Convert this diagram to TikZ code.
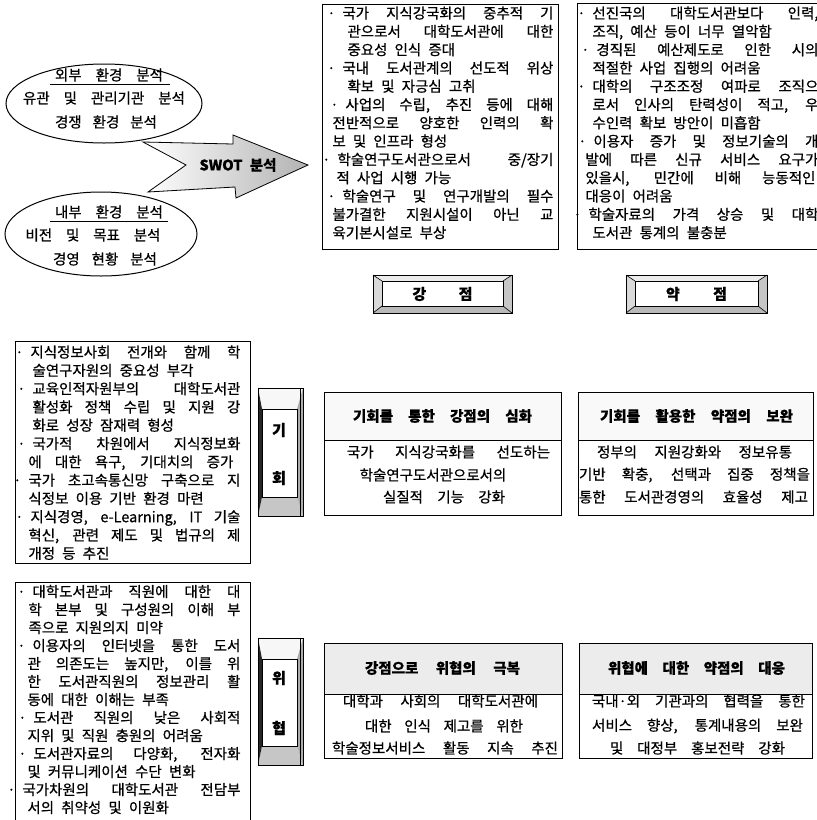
\documentclass[tikz,border=0pt]{standalone}
\usepackage{fontspec}
\setmainfont{Noto Sans CJK KR}[WordSpace=2.2, FakeBold=0.6]
\usetikzlibrary{shapes.geometric}
\newcommand\LJ[3]{\hbox{\hspace*{#1}\makebox[\dimexpr #2-#1\relax][s]{#3}}}
\newcommand\LN[2]{\hbox{\hspace*{#1}#2}}
\newcommand\BU{\llap{·\hspace{7pt}}}
\newcommand\SP[2]{\makebox[#1][s]{#2}}
\newcommand\bevelbox[6]{%
  \fill[gray!30] (#1,#2) -- ({#1+9},{#2+6}) -- ({#1+9},{#4-7}) -- (#1,#4) -- cycle;
  \fill[gray!15] (#1,#2) -- (#3,#2) -- ({#3-9},{#2+6}) -- ({#1+9},{#2+6}) -- cycle;
  \fill[gray!45] (#3,#2) -- (#3,#4) -- ({#3-9},{#4-7}) -- ({#3-9},{#2+6}) -- cycle;
  \fill[gray!55] (#1,#4) -- (#3,#4) -- ({#3-9},{#4-7}) -- ({#1+9},{#4-7}) -- cycle;
  \draw[line width=0.6pt] (#1,#2) -- ({#1+9},{#2+6}) (#3,#2) -- ({#3-9},{#2+6})
        (#1,#4) -- ({#1+9},{#4-7}) (#3,#4) -- ({#3-9},{#4-7});
  \draw[line width=1pt, fill=white] ({#1+9},{#2+6}) rectangle ({#3-9},{#4-7});
  \draw[line width=1pt] (#1,#2) rectangle (#3,#4);
  \node[labeltext] (#5) at ({(#1+#3)/2},{(#2+#4)/2}) {#6};
}
\newcommand\vlab[7]{%
  \fill[gray!6] (258,#1) -- (303,#1) -- (297,{#1+21}) -- (262,{#1+21}) -- cycle;
  \fill[gray!45] (262,{#2-19}) -- (297,{#2-19}) -- (303,#2) -- (258,#2) -- cycle;
  \fill[black!85] (258,#1) -- (262,{#1+21}) -- (262,{#2-19}) -- (258,#2) -- cycle;
  \fill[gray!65] (303,#1) -- (297,{#1+21}) -- (297,{#2-19}) -- (303,#2) -- cycle;
  \draw[line width=0.8pt, fill=white] (262,{#1+21}) rectangle (297,{#2-19});
  \draw[line width=1pt] (258,#1) rectangle (303,#2);
  \draw[line width=0.6pt] (300,#1) -- (300,#2);
  \node[labeltext] (#3a) at (279,#6) {#4};
  \node[labeltext] (#3b) at (279,#7) {#5};
}
\newcommand\cbox[6]{%
  \fill[#6] (#1,#2) rectangle (#3,#5);
  \draw[line width=1pt] (#1,#2) rectangle (#3,#4);
  \draw[line width=1pt] (#1,#5) -- (#3,#5);
}
\begin{document}
\begin{tikzpicture}[x=1pt, y=-1pt, line width=0.9pt,
  font=\fontsize{14.5}{18}\selectfont,
  labeltext/.style={font=\bfseries\fontsize{15}{17}\selectfont, inner sep=0pt},
  plain/.style={inner sep=0pt},
  head/.style={font=\bfseries\fontsize{14.5}{17}\selectfont, inner sep=0pt}]
\useasboundingbox (0,0) rectangle (817,820);
\fill[white] (0,0) rectangle (817,820);

% SWOT arrow
\draw[line width=0.8pt, left color=white, right color=gray!60]
  (143,142) -- (233,144) -- (233,135) -- (308,165) -- (236,198) -- (235,187)
  -- (148,192) -- (186,165) -- cycle;
\node[font=\bfseries\fontsize{14.5}{16}\selectfont, inner sep=0pt] (swot) at (238,165) {SWOT 분석};

% ellipses
\node[draw, ellipse, line width=1pt, fill=white, minimum width=196pt, minimum height=79pt, inner sep=0pt] (ext) at (104,103.5) {};
\node[draw, ellipse, line width=1pt, fill=white, minimum width=192pt, minimum height=84pt, inner sep=0pt] (int) at (101,234) {};
\node[plain] (ext1) at (109,75) {\SP{108pt}{외부 환경 분석}};
\draw[line width=0.8pt] ([xshift=-5pt,yshift=-2pt]ext1.south west) -- ([xshift=7pt,yshift=-2pt]ext1.south east);
\node[plain] (ext2) at (104,98) {\SP{162pt}{유관 및 관리기관 분석}};
\node[plain] (ext3) at (106,122) {\SP{102pt}{경쟁 환경 분석}};
\node[plain] (int1) at (109,212) {\SP{108pt}{내부 환경 분석}};
\draw[line width=0.8pt] ([xshift=-5pt,yshift=-2pt]int1.south west) -- ([xshift=5pt,yshift=-2pt]int1.south east);
\node[plain] (int2) at (93,235) {\SP{135pt}{비전 및 목표 분석}};
\node[plain] (int3) at (105,259) {\SP{104pt}{경영 현황 분석}};

% strengths
\draw[line width=1pt] (322,4) rectangle (558,249);
\node[plain, anchor=base west] (S) at (332,18.5) {\vtop{\baselineskip=18.3pt
  \LJ{10pt}{221pt}{\BU 국가 지식강국화의 중추적 기}
  \LJ{15pt}{221pt}{관으로서 대학도서관에 대한}
  \LN{15pt}{중요성 인식 증대}
  \LJ{10pt}{221pt}{\BU 국내 도서관계의 선도적 위상}
  \LN{15pt}{확보 및 자긍심 고취}
  \LJ{13pt}{221pt}{\BU 사업의 수립, 추진 등에 대해}
  \LJ{0pt}{221pt}{전반적으로 양호한 인력의 확}
  \LN{0pt}{보 및 인프라 형성}
  \LJ{5pt}{221pt}{\BU 학술연구도서관으로서 중/장기}
  \LN{4pt}{적 사업 시행 가능}
  \LJ{10pt}{221pt}{\BU 학술연구 및 연구개발의 필수}
  \LJ{0pt}{221pt}{불가결한 지원시설이 아닌 교}
  \LN{0pt}{육기본시설로 부상}}};

% weaknesses
\draw[line width=1pt] (577,3) rectangle (830,249);
\node[plain, anchor=base west] (W) at (585,18.5) {\vtop{\baselineskip=18.3pt
  \LJ{7pt}{233pt}{\BU 선진국의 대학도서관보다 인력,}
  \LN{7pt}{조직, 예산 등이 너무 열악함}
  \LJ{11pt}{233pt}{\BU 경직된 예산제도로 인한 시의}
  \LN{7pt}{적절한 사업 집행의 어려움}
  \LJ{7pt}{233pt}{\BU 대학의 구조조정 여파로 조직으}
  \LJ{7pt}{233pt}{로서 인사의 탄력성이 적고, 우}
  \LN{7pt}{수인력 확보 방안이 미흡함}
  \LJ{8pt}{233pt}{\BU 이용자 증가 및 정보기술의 개}
  \LJ{0pt}{233pt}{발에 따른 신규 서비스 요구가}
  \LJ{0pt}{230pt}{있을시, 민간에 비해 능동적인}
  \LN{0pt}{대응이 어려움}
  \LJ{3pt}{233pt}{\BU 학술자료의 가격 상승 및 대학}
  \LN{7pt}{도서관 통계의 불충분}}};

% labels strengths / weaknesses
\bevelbox{373}{275}{512}{313}{lS}{\SP{60pt}{강 점}}
\bevelbox{626}{275}{767}{313}{lW}{\SP{61pt}{약 점}}

% opportunities
\draw[line width=1pt] (15,341) rectangle (250,563);
\node[plain, anchor=base west] (O) at (28,357.5) {\vtop{\baselineskip=18.3pt
  \LJ{2pt}{212pt}{\BU 지식정보사회 전개와 함께 학}
  \LN{4pt}{술연구자원의 중요성 부각}
  \LJ{4pt}{212pt}{\BU 교육인적자원부의 대학도서관}
  \LJ{4pt}{212pt}{활성화 정책 수립 및 지원 강}
  \LN{4pt}{화로 성장 잠재력 형성}
  \LJ{4pt}{212pt}{\BU 국가적 차원에서 지식정보화}
  \LJ{0pt}{205pt}{에 대한 욕구, 기대치의 증가}
  \LJ{0pt}{212pt}{\BU 국가 초고속통신망 구축으로 지}
  \LN{0pt}{식정보 이용 기반 환경 마련}
  \LJ{2pt}{212pt}{\BU 지식경영, e-Learning, IT 기술}
  \LJ{0pt}{212pt}{혁신, 관련 제도 및 법규의 제}
  \LN{0pt}{개정 등 추진}}};

% threats
\draw[line width=1pt] (15,582) rectangle (250,830);
\node[plain, anchor=base west] (T) at (22,597) {\vtop{\baselineskip=18pt
  \LJ{10pt}{218pt}{\BU 대학도서관과 직원에 대한 대}
  \LJ{6pt}{218pt}{학 본부 및 구성원의 이해 부}
  \LN{6pt}{족으로 지원의지 미약}
  \LJ{10pt}{218pt}{\BU 이용자의 인터넷을 통한 도서}
  \LJ{5pt}{218pt}{관 의존도는 높지만, 이를 위}
  \LJ{5pt}{218pt}{한 도서관직원의 정보관리 활}
  \LN{5pt}{동에 대한 이해는 부족}
  \LJ{11pt}{218pt}{\BU 도서관 직원의 낮은 사회적}
  \LN{5pt}{지위 및 직원 충원의 어려움}
  \LJ{11pt}{218pt}{\BU 도서관자료의 다양화, 전자화}
  \LN{5pt}{및 커뮤니케이션 수단 변화}
  \LJ{0pt}{218pt}{\BU 국가차원의 대학도서관 전담부}
  \LN{5pt}{서의 취약성 및 이원화}}};

% vertical labels
\vlab{388}{516}{op}{기}{회}{430}{478}
\vlab{638}{765}{th}{위}{협}{678}{728}

% strategy boxes
\cbox{324}{392}{561}{515}{440}{gray!5}
\cbox{578}{392}{813}{515}{440}{gray!5}
\cbox{324}{643}{562}{758}{694}{gray!15}
\cbox{579}{643}{812}{758}{694}{gray!15}

\node[head] (SOh) at (442.5,416) {\SP{179pt}{기회를 통한 강점의 심화}};
\node[plain] (SO1) at (448.5,452) {\SP{203pt}{국가 지식강국화를 선도하는}};
\node[plain] (SO2) at (433,475) {학술연구도서관으로서의};
\node[plain] (SO3) at (444,497) {\SP{122pt}{실질적 기능 강화}};

\node[head] (WOh) at (696.5,416) {\SP{193pt}{기회를 활용한 약점의 보완}};
\node[plain] (WO1) at (694.5,452) {\SP{195pt}{정부의 지원강화와 정보유통}};
\node[plain] (WO2) at (694.5,475) {\SP{231pt}{기반 확충, 선택과 집중 정책을}};
\node[plain] (WO3) at (693.5,497) {\SP{229pt}{통한 도서관경영의 효율성 제고}};

\node[head] (STh) at (442.5,668) {\SP{155pt}{강점으로 위협의 극복}};
\node[plain] (ST1) at (440.5,701) {\SP{195pt}{대학과 사회의 대학도서관에}};
\node[plain] (ST2) at (444,726) {\SP{158pt}{대한 인식 제고를 위한}};
\node[plain] (ST3) at (445,748) {\SP{226pt}{학술정보서비스 활동 지속 추진}};

\node[head] (WTh) at (696.5,668) {\SP{177pt}{위협에 대한 약점의 대응}};
\node[plain] (WT1) at (698.5,701) {\SP{213pt}{국내·외 기관과의 협력을 통한}};
\node[plain] (WT2) at (697.5,726) {\SP{211pt}{서비스 향상, 통계내용의 보완}};
\node[plain] (WT3) at (697.5,748) {\SP{175pt}{및 대정부 홍보전략 강화}};
\end{tikzpicture}
\end{document}
